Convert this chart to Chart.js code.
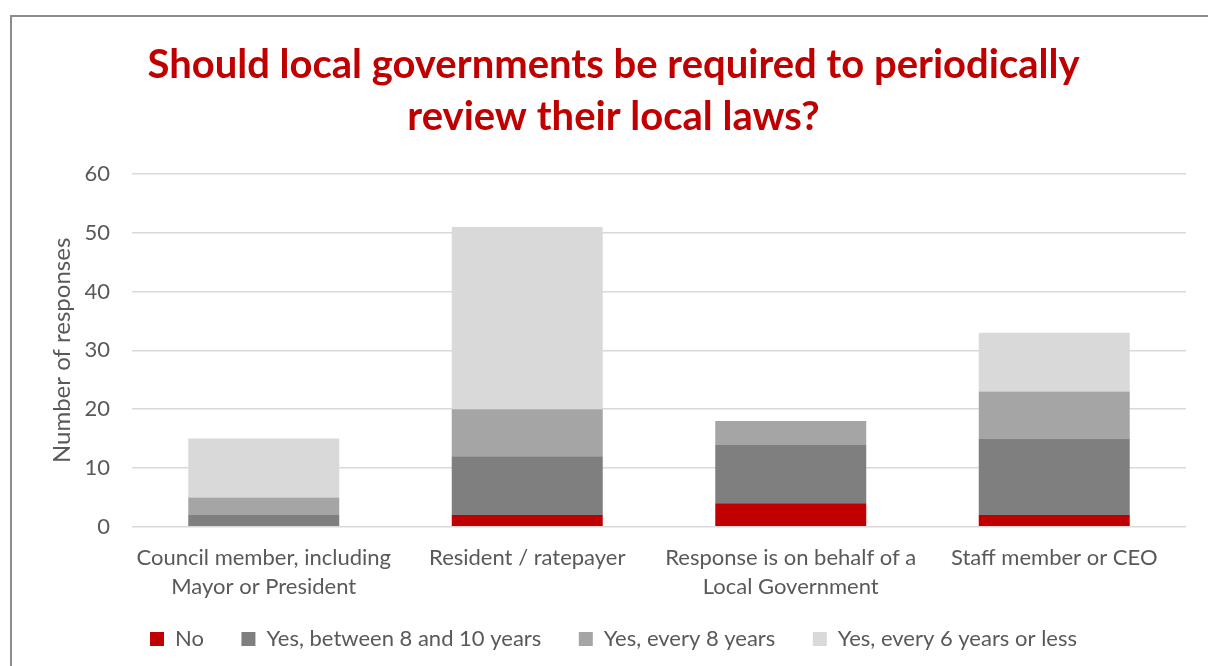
<!DOCTYPE html>
<html>
<head>
<meta charset="utf-8">
<script src="https://cdn.jsdelivr.net/npm/chart.js@4/dist/chart.umd.min.js"></script>
<style>
  html, body { margin: 0; padding: 0; background: #fff; overflow: hidden; }
  #frame {
    position: absolute; left: 10px; top: 15px;
    width: 1300px; height: 800px;
    border: 2px solid #8c8c8c; box-sizing: border-box;
  }
  #wrap { position: absolute; left: 11px; top: 0; width: 1206px; height: 666px; }
</style>
</head>
<body>
<div id="frame"></div>
<div id="wrap"><canvas id="reportCanvas"></canvas></div>
<script>
const categories = [
  ["Council member, including", "Mayor or President"],
  "Resident / ratepayer",
  ["Response is on behalf of a", "Local Government"],
  "Staff member or CEO"
];
const seriesNames = ["No", "Yes, between 8 and 10 years", "Yes, every 8 years", "Yes, every 6 years or less"];
const noVals = [0, 2, 4, 2];
const yes8to10 = [2, 10, 10, 13];
const yesEvery8 = [3, 8, 4, 8];
const yesEvery6 = [10, 31, 0, 10];
const colors = ["#c00000", "#7f7f7f", "#a5a5a5", "#d9d9d9"];

const textGrey = "#595959";
const fontName = "Lato";

const dataSetsArr = [noVals, yes8to10, yesEvery8, yesEvery6].map((vals, i) => {
  return {
    label: seriesNames[i],
    data: vals,
    backgroundColor: colors[i],
    borderWidth: 0,
    barPercentage: 0.573,
    categoryPercentage: 1
  };
});

// default legend items, with an em space after each entry but the last for wider gaps
function legendItems(chart) {
  const items = Chart.defaults.plugins.legend.labels.generateLabels(chart);
  return items.map((item, i) => {
    if (i < items.length - 1) item.text = item.text + "\u2003";
    return item;
  });
}

const canvas = document.getElementById("reportCanvas");
const myChart = new Chart(canvas, {
  type: "bar",
  data: { labels: categories, datasets: dataSetsArr },
  options: {
    responsive: true,
    maintainAspectRatio: false,
    animation: false,
    layout: { padding: { left: 30, right: 31, bottom: 6 } },
    plugins: {
      title: {
        display: true,
        text: ["Should local governments be required to periodically", "review their local laws?"],
        color: "#c00000",
        font: { family: fontName, size: 40, weight: "bold", lineHeight: 1.3 },
        padding: { top: 39, bottom: 31 }
      },
      legend: {
        position: "bottom",
        labels: {
          color: textGrey,
          font: { family: fontName, size: 22 },
          boxWidth: 14,
          boxHeight: 14,
          padding: 21,
          generateLabels: legendItems
        }
      },
      tooltip: { enabled: false }
    },
    scales: {
      x: {
        stacked: true,
        grid: { display: false, drawTicks: false },
        border: { display: false },
        ticks: {
          color: textGrey,
          font: { family: fontName, size: 22, lineHeight: 1.3 },
          padding: 17,
          maxRotation: 0
        },
        afterFit: (scale) => { scale.height -= 11; }
      },
      y: {
        stacked: true,
        min: 0,
        max: 60,
        ticks: { stepSize: 10, color: textGrey, font: { family: fontName, size: 22 }, padding: 22 },
        grid: { color: "#d9d9d9", lineWidth: 1.5, drawTicks: false },
        border: { display: false },
        title: {
          display: true,
          text: "Number of responses",
          color: textGrey,
          font: { family: fontName, size: 24 },
          padding: { top: 7, bottom: 0 }
        },
        afterFit: (scale) => { scale.width = 91; }
      }
    }
  }
});
</script>
</body>
</html>
